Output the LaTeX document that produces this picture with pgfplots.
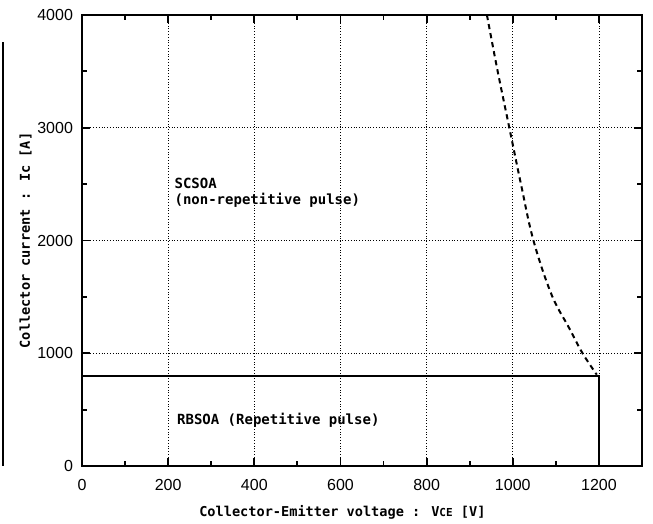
\documentclass[border=0pt]{standalone}
\usepackage{fontspec}
\setmainfont{Liberation Sans}
\newfontfamily\lbl{DejaVu Sans Mono}
\usepackage{pgfplots}
\pgfplotsset{compat=1.18}
\begin{document}
\begin{tikzpicture}
\begin{axis}[
    scale only axis,
    width=280pt, height=225.5pt,
    xmin=0, xmax=1300,
    ymin=0, ymax=4000,
    xtick={0,200,...,1200},
    ytick={0,1000,...,4000},
    minor xtick={100,300,...,1300},
    minor ytick={500,1500,...,3500},
    tick align=inside,
    major tick length=4pt,
    minor tick length=2.5pt,
    every tick/.style={black, line width=0.9pt},
    axis line style={line width=1.1pt},
    grid=major,
    major grid style={black, densely dotted, line width=0.4pt},
    scaled ticks=false,
    /pgf/number format/1000 sep={},
    /pgf/number format/assume math mode=true,
    tick label style={font=\fontsize{8}{9}\selectfont},
    xticklabel style={yshift=-3pt},
    yticklabel style={xshift=-1pt},
    xlabel={Collector-Emitter voltage : V{\fontsize{5.5}{6}\selectfont CE} [V]},
    ylabel={Collector current : Ic [A]},
    label style={font=\lbl\bfseries\fontsize{6.8}{8}\selectfont},
    xlabel style={at={(ticklabel cs:0.465)}, yshift=-0.5pt},
    ylabel style={at={(ticklabel cs:0.5)}, yshift=-4pt},
    clip=false,
]
\addplot[black, line width=1pt] coordinates {(0,800) (1200,800) (1200,0)};
\addplot[black, line width=1pt, dash pattern=on 2.6pt off 2pt, smooth, tension=0.6] coordinates {
    (940,4000) (965,3500) (992,3000) (1019,2500) (1048,2000)
    (1090,1520) (1130,1230) (1162,1000) (1195,810)};
\node[anchor=south west, inner sep=0pt, font=\lbl\bfseries\fontsize{7}{8}\selectfont, align=left]
    at (axis cs:214,2290) {SCSOA\\(non-repetitive pulse)};
\node[anchor=west, inner sep=0pt, font=\lbl\bfseries\fontsize{7}{8}\selectfont]
    at (axis cs:220,410) {RBSOA (Repetitive pulse)};
\end{axis}
\pgfresetboundingbox
\path (current axis.south west) ++(-41pt,-29pt) coordinate (bl);
\path (current axis.north east) ++(5.5pt,7.5pt) coordinate (tr);
\useasboundingbox (bl) rectangle (tr);
\draw[line width=0.8pt] ([xshift=1.5pt]bl |- current axis.south west) -- ++(0,212pt);
\end{tikzpicture}
\end{document}
